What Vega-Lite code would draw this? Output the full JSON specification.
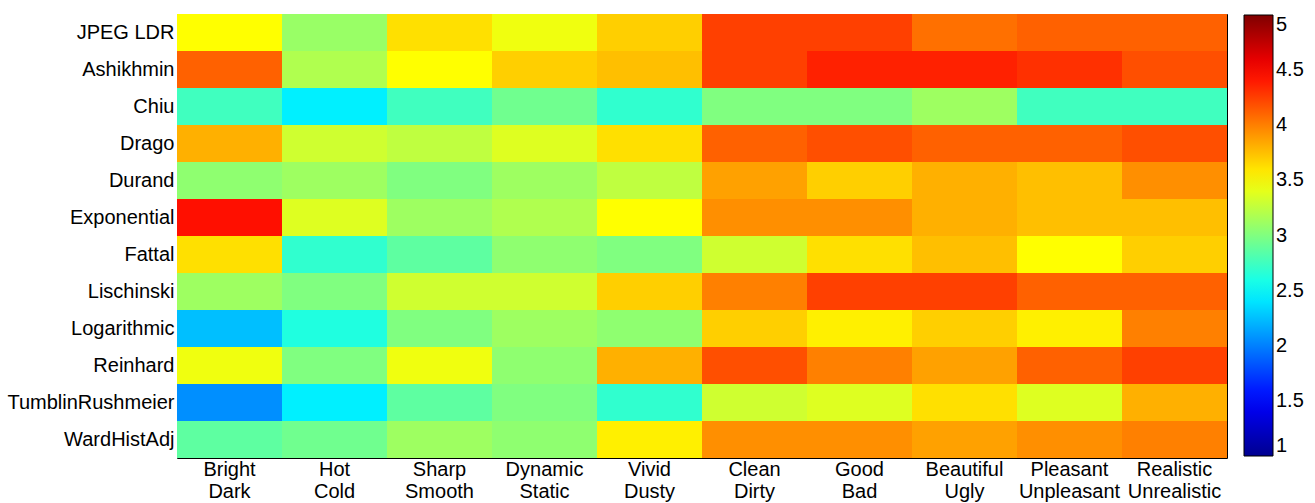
{
  "$schema": "https://vega.github.io/schema/vega-lite/v6.json",
  "autosize": {"type": "none"},
  "padding": {"left": 177, "top": 14, "right": 88, "bottom": 45},
  "width": 1050,
  "height": 444,
  "background": "white",
  "config": {
    "view": {"stroke": "black", "strokeWidth": 1},
    "font": "Liberation Sans",
    "axis": {"domain": false, "grid": false, "ticks": true, "zindex": 2, "labelFont": "Liberation Sans", "labelFontSize": 20, "labelColor": "black", "tickColor": "black", "tickWidth": 1, "title": null}
  },
  "data": {"values": [
    {"method":"JPEG LDR","pair":"Bright/Dark","score":3.5},{"method":"JPEG LDR","pair":"Hot/Cold","score":3.1},{"method":"JPEG LDR","pair":"Sharp/Smooth","score":3.62},{"method":"JPEG LDR","pair":"Dynamic/Static","score":3.44},{"method":"JPEG LDR","pair":"Vivid/Dusty","score":3.69},{"method":"JPEG LDR","pair":"Clean/Dirty","score":4.25},{"method":"JPEG LDR","pair":"Good/Bad","score":4.25},{"method":"JPEG LDR","pair":"Beautiful/Ugly","score":4.06},{"method":"JPEG LDR","pair":"Pleasant/Unpleasant","score":4.12},{"method":"JPEG LDR","pair":"Realistic/Unrealistic","score":4.12},
    {"method":"Ashikhmin","pair":"Bright/Dark","score":4.12},{"method":"Ashikhmin","pair":"Hot/Cold","score":3.19},{"method":"Ashikhmin","pair":"Sharp/Smooth","score":3.5},{"method":"Ashikhmin","pair":"Dynamic/Static","score":3.69},{"method":"Ashikhmin","pair":"Vivid/Dusty","score":3.75},{"method":"Ashikhmin","pair":"Clean/Dirty","score":4.25},{"method":"Ashikhmin","pair":"Good/Bad","score":4.37},{"method":"Ashikhmin","pair":"Beautiful/Ugly","score":4.37},{"method":"Ashikhmin","pair":"Pleasant/Unpleasant","score":4.31},{"method":"Ashikhmin","pair":"Realistic/Unrealistic","score":4.19},
    {"method":"Chiu","pair":"Bright/Dark","score":2.75},{"method":"Chiu","pair":"Hot/Cold","score":2.44},{"method":"Chiu","pair":"Sharp/Smooth","score":2.75},{"method":"Chiu","pair":"Dynamic/Static","score":2.94},{"method":"Chiu","pair":"Vivid/Dusty","score":2.69},{"method":"Chiu","pair":"Clean/Dirty","score":3.0},{"method":"Chiu","pair":"Good/Bad","score":3.0},{"method":"Chiu","pair":"Beautiful/Ugly","score":3.12},{"method":"Chiu","pair":"Pleasant/Unpleasant","score":2.75},{"method":"Chiu","pair":"Realistic/Unrealistic","score":2.75},
    {"method":"Drago","pair":"Bright/Dark","score":3.81},{"method":"Drago","pair":"Hot/Cold","score":3.31},{"method":"Drago","pair":"Sharp/Smooth","score":3.25},{"method":"Drago","pair":"Dynamic/Static","score":3.37},{"method":"Drago","pair":"Vivid/Dusty","score":3.62},{"method":"Drago","pair":"Clean/Dirty","score":4.12},{"method":"Drago","pair":"Good/Bad","score":4.19},{"method":"Drago","pair":"Beautiful/Ugly","score":4.12},{"method":"Drago","pair":"Pleasant/Unpleasant","score":4.12},{"method":"Drago","pair":"Realistic/Unrealistic","score":4.19},
    {"method":"Durand","pair":"Bright/Dark","score":3.06},{"method":"Durand","pair":"Hot/Cold","score":3.12},{"method":"Durand","pair":"Sharp/Smooth","score":3.0},{"method":"Durand","pair":"Dynamic/Static","score":3.12},{"method":"Durand","pair":"Vivid/Dusty","score":3.25},{"method":"Durand","pair":"Clean/Dirty","score":3.87},{"method":"Durand","pair":"Good/Bad","score":3.69},{"method":"Durand","pair":"Beautiful/Ugly","score":3.81},{"method":"Durand","pair":"Pleasant/Unpleasant","score":3.75},{"method":"Durand","pair":"Realistic/Unrealistic","score":3.94},
    {"method":"Exponential","pair":"Bright/Dark","score":4.44},{"method":"Exponential","pair":"Hot/Cold","score":3.37},{"method":"Exponential","pair":"Sharp/Smooth","score":3.12},{"method":"Exponential","pair":"Dynamic/Static","score":3.19},{"method":"Exponential","pair":"Vivid/Dusty","score":3.5},{"method":"Exponential","pair":"Clean/Dirty","score":3.94},{"method":"Exponential","pair":"Good/Bad","score":3.94},{"method":"Exponential","pair":"Beautiful/Ugly","score":3.81},{"method":"Exponential","pair":"Pleasant/Unpleasant","score":3.75},{"method":"Exponential","pair":"Realistic/Unrealistic","score":3.75},
    {"method":"Fattal","pair":"Bright/Dark","score":3.62},{"method":"Fattal","pair":"Hot/Cold","score":2.69},{"method":"Fattal","pair":"Sharp/Smooth","score":2.87},{"method":"Fattal","pair":"Dynamic/Static","score":3.06},{"method":"Fattal","pair":"Vivid/Dusty","score":3.0},{"method":"Fattal","pair":"Clean/Dirty","score":3.31},{"method":"Fattal","pair":"Good/Bad","score":3.62},{"method":"Fattal","pair":"Beautiful/Ugly","score":3.75},{"method":"Fattal","pair":"Pleasant/Unpleasant","score":3.5},{"method":"Fattal","pair":"Realistic/Unrealistic","score":3.69},
    {"method":"Lischinski","pair":"Bright/Dark","score":3.12},{"method":"Lischinski","pair":"Hot/Cold","score":3.0},{"method":"Lischinski","pair":"Sharp/Smooth","score":3.31},{"method":"Lischinski","pair":"Dynamic/Static","score":3.31},{"method":"Lischinski","pair":"Vivid/Dusty","score":3.69},{"method":"Lischinski","pair":"Clean/Dirty","score":4.0},{"method":"Lischinski","pair":"Good/Bad","score":4.25},{"method":"Lischinski","pair":"Beautiful/Ugly","score":4.25},{"method":"Lischinski","pair":"Pleasant/Unpleasant","score":4.12},{"method":"Lischinski","pair":"Realistic/Unrealistic","score":4.12},
    {"method":"Logarithmic","pair":"Bright/Dark","score":2.25},{"method":"Logarithmic","pair":"Hot/Cold","score":2.62},{"method":"Logarithmic","pair":"Sharp/Smooth","score":3.0},{"method":"Logarithmic","pair":"Dynamic/Static","score":3.12},{"method":"Logarithmic","pair":"Vivid/Dusty","score":3.06},{"method":"Logarithmic","pair":"Clean/Dirty","score":3.69},{"method":"Logarithmic","pair":"Good/Bad","score":3.56},{"method":"Logarithmic","pair":"Beautiful/Ugly","score":3.69},{"method":"Logarithmic","pair":"Pleasant/Unpleasant","score":3.56},{"method":"Logarithmic","pair":"Realistic/Unrealistic","score":4.0},
    {"method":"Reinhard","pair":"Bright/Dark","score":3.44},{"method":"Reinhard","pair":"Hot/Cold","score":3.0},{"method":"Reinhard","pair":"Sharp/Smooth","score":3.44},{"method":"Reinhard","pair":"Dynamic/Static","score":3.06},{"method":"Reinhard","pair":"Vivid/Dusty","score":3.81},{"method":"Reinhard","pair":"Clean/Dirty","score":4.19},{"method":"Reinhard","pair":"Good/Bad","score":4.0},{"method":"Reinhard","pair":"Beautiful/Ugly","score":3.87},{"method":"Reinhard","pair":"Pleasant/Unpleasant","score":4.12},{"method":"Reinhard","pair":"Realistic/Unrealistic","score":4.25},
    {"method":"TumblinRushmeier","pair":"Bright/Dark","score":2.06},{"method":"TumblinRushmeier","pair":"Hot/Cold","score":2.44},{"method":"TumblinRushmeier","pair":"Sharp/Smooth","score":2.87},{"method":"TumblinRushmeier","pair":"Dynamic/Static","score":3.0},{"method":"TumblinRushmeier","pair":"Vivid/Dusty","score":2.69},{"method":"TumblinRushmeier","pair":"Clean/Dirty","score":3.31},{"method":"TumblinRushmeier","pair":"Good/Bad","score":3.37},{"method":"TumblinRushmeier","pair":"Beautiful/Ugly","score":3.62},{"method":"TumblinRushmeier","pair":"Pleasant/Unpleasant","score":3.37},{"method":"TumblinRushmeier","pair":"Realistic/Unrealistic","score":3.81},
    {"method":"WardHistAdj","pair":"Bright/Dark","score":2.87},{"method":"WardHistAdj","pair":"Hot/Cold","score":2.94},{"method":"WardHistAdj","pair":"Sharp/Smooth","score":3.12},{"method":"WardHistAdj","pair":"Dynamic/Static","score":3.06},{"method":"WardHistAdj","pair":"Vivid/Dusty","score":3.56},{"method":"WardHistAdj","pair":"Clean/Dirty","score":3.94},{"method":"WardHistAdj","pair":"Good/Bad","score":3.94},{"method":"WardHistAdj","pair":"Beautiful/Ugly","score":3.87},{"method":"WardHistAdj","pair":"Pleasant/Unpleasant","score":3.94},{"method":"WardHistAdj","pair":"Realistic/Unrealistic","score":4.0}
  ]},
  "layer": [
    {
      "mark": {"type": "rect", "strokeWidth": 0},
      "encoding": {
        "x": {"field": "pair", "type": "nominal", "sort": null,
              "scale": {"paddingInner": 0, "paddingOuter": 0},
              "axis": {"orient": "bottom", "labelAngle": 0, "ticks": true, "offset": -10, "tickSize": 10, "labelPadding": 1, "labelExpr": "split(datum.label, '/')", "labelLineHeight": 22.5, "labelBaseline": "top"}},
        "y": {"field": "method", "type": "nominal", "sort": null,
              "scale": {"paddingInner": 0, "paddingOuter": 0},
              "axis": {"orient": "left", "ticks": true, "offset": -4, "tickSize": 4, "labelPadding": 3}},
        "color": {"field": "score", "type": "quantitative",
                  "scale": {"domain": [1, 1.5, 2.5, 3.5, 4.5, 5], "range": ["#00008f", "#0000ff", "#00ffff", "#ffff00", "#ff0000", "#800000"], "interpolate": "rgb"},
                  "legend": {"orient": "none", "legendX": 1067, "legendY": 1, "padding": 0, "title": null,
                             "type": "gradient",
                             "direction": "vertical", "gradientLength": 441, "gradientThickness": 29,
                             "gradientStrokeColor": "black", "gradientStrokeWidth": 1,
                             "values": [1, 1.5, 2, 2.5, 3, 3.5, 4, 4.5, 5], "labelExpr": "'' + datum.value",
                             "labelBaseline": "middle",
                             "labelFont": "Liberation Sans", "labelFontSize": 20, "labelColor": "black", "labelOffset": 3, "labelOverlap": false}}
      }
    },
    {
      "mark": {"type": "rect", "opacity": 0},
      "encoding": {
        "x": {"field": "pair", "type": "nominal", "sort": null,
              "axis": {"orient": "top", "labels": false, "ticks": true, "offset": -10, "tickSize": 10}},
        "y": {"field": "method", "type": "nominal", "sort": null,
              "axis": {"orient": "right", "labels": false, "ticks": true, "offset": -4, "tickSize": 4}}
      }
    }
  ],
  "resolve": {"axis": {"x": "independent", "y": "independent"}}
}
